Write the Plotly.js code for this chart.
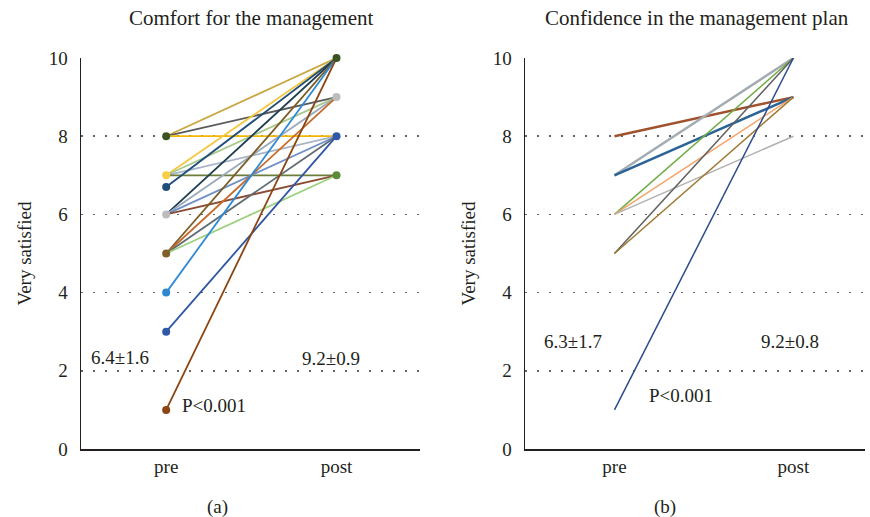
<!DOCTYPE html>
<html>
<head>
<meta charset="utf-8">
<script src="https://cdn.plot.ly/plotly-3.0.1.min.js"></script>
<style>html,body{margin:0;padding:0;background:#fff;}#chart{width:870px;height:517px;}</style>
</head>
<body>
<div id="chart"></div>
<script>
// ---- Data ----
const categories = ["pre", "post"];
const yTicks = [0, 2, 4, 6, 8, 10];

// Panel (a): Comfort for the management
const comfortPre  = [8, 8, 8, 7, 7, 7, 7, 6.7, 6, 6, 6, 6, 5, 5, 5, 5, 4, 3, 1];
const comfortPost = [10, 9, 8, 10, 9, 8, 7, 10, 10, 9, 8, 7, 10, 9, 8, 7, 10, 8, 10];
const comfortColors = ["#c9a640", "#5a5a5a", "#f2b705", "#f5c842", "#a9c98a", "#a8b4c8", "#6b7f3a",
  "#1f4e79", "#1d3d4f", "#9aaabb", "#6f8fc7", "#8b4a32", "#7a5c25", "#c56a2a", "#5f6b73",
  "#9dd17f", "#2f8ad6", "#2f55a4", "#8b4513"];
const comfortPreMarkers = [8, 7, 6.7, 6, 5, 4, 3, 1];
const comfortPreMarkerColors = ["#3b5323", "#f7ce46", "#1f4e79", "#bcbcbc", "#7f6128", "#2e86d0", "#2f58a8", "#8b4513"];
const comfortPostMarkers = [10, 9, 8, 7];
const comfortPostMarkerColors = ["#3b5323", "#bdbdbd", "#3057a8", "#5b8a3c"];

// Panel (b): Confidence in the management plan
const confPre  = [8, 7, 7, 6, 6, 6, 5, 5, 1];
const confPost = [9, 10, 9, 10, 9, 8, 10, 9, 10];
const confColors = ["#a0522d", "#a3abb3", "#2a6496", "#70ad47", "#f4a46a", "#b0b0b0", "#606060", "#a07a35", "#2b4c8c"];
const confWidths = [2.5, 2.5, 2.5, 1.5, 1.5, 1.5, 1.5, 1.5, 1.5];

const statsA = {pre: "6.4±1.6", post: "9.2±0.9", p: "P<0.001"};
const statsB = {pre: "6.3±1.7", post: "9.2±0.8", p: "P<0.001"};

// ---- Traces ----
const traces = [];
comfortPre.forEach((v, i) => {
  traces.push({type: "scatter", mode: "lines", x: categories, y: [v, comfortPost[i]],
    xaxis: "x", yaxis: "y", line: {color: comfortColors[i], width: 1.8},
    hoverinfo: "y", showlegend: false, cliponaxis: false});
});
traces.push({type: "scatter", mode: "markers", x: comfortPreMarkers.map(() => categories[0]), y: comfortPreMarkers,
  xaxis: "x", yaxis: "y", marker: {color: comfortPreMarkerColors, size: 8}, showlegend: false, cliponaxis: false});
traces.push({type: "scatter", mode: "markers", x: comfortPostMarkers.map(() => categories[1]), y: comfortPostMarkers,
  xaxis: "x", yaxis: "y", marker: {color: comfortPostMarkerColors, size: 8}, showlegend: false, cliponaxis: false});

confPre.forEach((v, i) => {
  traces.push({type: "scatter", mode: "lines", x: categories, y: [v, confPost[i]],
    xaxis: "x2", yaxis: "y2", line: {color: confColors[i], width: confWidths[i]},
    hoverinfo: "y", showlegend: false, cliponaxis: false});
});

const fontFam = "'Liberation Serif', 'Times New Roman', serif";
const axisFont = {family: fontFam, size: 19, color: "#231f20"};
const textFont = {family: fontFam, size: 19, color: "#231f20"};
const titleFont = {family: fontFam, size: 21, color: "#231f20"};

function yAxis(anchor) {
  return {anchor: anchor, domain: [0, 1], range: [0, 10], tickvals: yTicks, ticktext: yTicks.map(String),
    showline: true, linecolor: "#231f20", linewidth: 1.5, ticks: "", ticklabelstandoff: 8,
    showgrid: true, gridcolor: "#666", gridwidth: 1.5, griddash: "1.5px,10.5px",
    zeroline: false, tickfont: axisFont,
    title: {text: "Very satisfied", font: axisFont, standoff: 12}, fixedrange: true};
}
function xAxis(anchor, domain, range) {
  return {anchor: anchor, domain: domain, type: "category", range: range,
    showline: true, linecolor: "#231f20", linewidth: 1.5, ticks: "", showgrid: false, zeroline: false,
    tickfont: axisFont, ticklabelstandoff: 0, fixedrange: true};
}

function ann(text, xref, yref, x, y, extra) {
  return Object.assign({text: text, xref: xref, yref: yref, x: x, y: y, showarrow: false,
    xanchor: "center", yanchor: "middle", font: textFont}, extra || {});
}

const layout = {
  width: 870, height: 517,
  margin: {l: 0, r: 0, t: 58, b: 68},
  paper_bgcolor: "#fff", plot_bgcolor: "#fff",
  font: {family: fontFam, color: "#231f20"},
  xaxis: xAxis("y", [81/870, 420/870], [-0.5, 1.49]),
  yaxis: yAxis("x"),
  xaxis2: xAxis("y2", [525/870, 865/870], [-0.5, 1.4]),
  yaxis2: yAxis("x2"),
  showlegend: false,
  annotations: [
    ann("Comfort for the management", "paper", "paper", 251/870, 1, {yshift: 40, font: titleFont}),
    ann("Confidence in the management plan", "paper", "paper", 697/870, 1, {yshift: 40, font: titleFont}),
    ann("(a)", "paper", "paper", 218/870, 0, {yshift: -58}),
    ann("(b)", "paper", "paper", 665/870, 0, {yshift: -58}),
    ann(statsA.pre, "x", "y", -0.27, 2.35),
    ann(statsA.post, "x", "y", 0.97, 2.32),
    ann(statsA.p, "x", "y", 0.28, 1.12),
    ann(statsB.pre, "x2", "y2", -0.23, 2.76),
    ann(statsB.post, "x2", "y2", 0.98, 2.76),
    ann(statsB.p, "x2", "y2", 0.37, 1.38)
  ]
};

Plotly.newPlot("chart", traces, layout, {staticPlot: true, displayModeBar: false});
</script>
</body>
</html>
